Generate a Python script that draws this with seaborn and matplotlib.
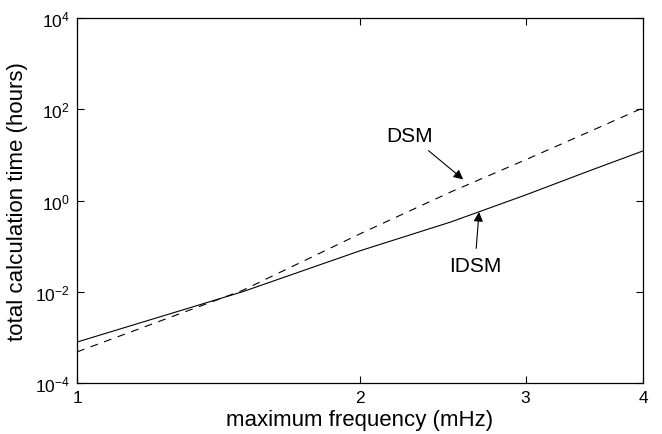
import numpy as np
import pandas as pd
import matplotlib
matplotlib.use("Agg")
import matplotlib.pyplot as plt
import seaborn as sns
from matplotlib.ticker import FixedLocator, FixedFormatter, NullLocator

# Data
freq = [1.0, 1.5, 2.0, 2.5, 3.0, 3.5, 4.0]
dsm_hours = [4.8e-4, 1.07e-2, 0.186, 1.55, 7.8, 31.6, 107.0]
idsm_hours = [7.9e-4, 1.0e-2, 0.079, 0.34, 1.32, 4.4, 12.2]
x_ticks = [1, 2, 3, 4]
x_tick_labels = ["1", "2", "3", "4"]
y_ticks = [1e-4, 1e-2, 1e0, 1e2, 1e4]
y_tick_labels = [r"$\mathregular{10^{-4}}$", r"$\mathregular{10^{-2}}$", r"$\mathregular{10^{0}}$",
                 r"$\mathregular{10^{2}}$", r"$\mathregular{10^{4}}$"]

sns.set_style("ticks")
plt.rcParams["font.family"] = ["Liberation Sans", "DejaVu Sans"]
plt.rcParams["mathtext.fontset"] = "custom"
plt.rcParams["mathtext.rm"] = "Liberation Sans"
plt.rcParams["text.color"] = "black"
plt.rcParams["axes.labelcolor"] = "black"
plt.rcParams["xtick.color"] = "black"
plt.rcParams["ytick.color"] = "black"

df_dsm = pd.DataFrame({"freq": freq, "hours": dsm_hours})
df_idsm = pd.DataFrame({"freq": freq, "hours": idsm_hours})

fig = plt.figure(figsize=(6.62, 4.35), dpi=100)
ax = fig.add_axes([77/662, 51/435, 566/662, 365/435])

sns.lineplot(data=df_dsm, x="freq", y="hours", ax=ax, color="black", lw=0.8)
ax.lines[-1].set_linestyle((0, (7, 6)))
sns.lineplot(data=df_idsm, x="freq", y="hours", ax=ax, color="black", lw=0.8)

ax.set_xscale("log")
ax.set_yscale("log")
ax.set_xlim(1, 4)
ax.set_ylim(1e-4, 1e4)
ax.xaxis.set_major_locator(FixedLocator(x_ticks))
ax.xaxis.set_major_formatter(FixedFormatter(x_tick_labels))
ax.xaxis.set_minor_locator(NullLocator())
ax.yaxis.set_major_locator(FixedLocator(y_ticks))
ax.yaxis.set_major_formatter(FixedFormatter(y_tick_labels))
ax.yaxis.set_minor_locator(NullLocator())

ax.tick_params(direction="in", length=5, width=0.8, labelsize=12.5, top=True, right=True,
               color="black", labelcolor="black", pad=5)
for s in ax.spines.values():
    s.set_linewidth(0.9)
    s.set_color("black")

ax.set_xlabel("maximum frequency (mHz)", fontsize=16, labelpad=3, color="black")
ax.set_ylabel("total calculation time (hours)", fontsize=16, labelpad=5, color="black")

ax.annotate("DSM", xy=(2.575, 2.9), xytext=(2.26, 27.0), fontsize=15, ha="center", va="center",
            color="black",
            arrowprops=dict(arrowstyle="-|>", color="black", lw=0.8, mutation_scale=14,
                            shrinkA=3, shrinkB=0))
ax.annotate("IDSM", xy=(2.677, 0.56), xytext=(2.65, 0.038), fontsize=15, ha="center", va="center",
            color="black",
            arrowprops=dict(arrowstyle="-|>", color="black", lw=0.8, mutation_scale=14,
                            shrinkA=3, shrinkB=0))

fig.savefig("out.png", dpi=100)
